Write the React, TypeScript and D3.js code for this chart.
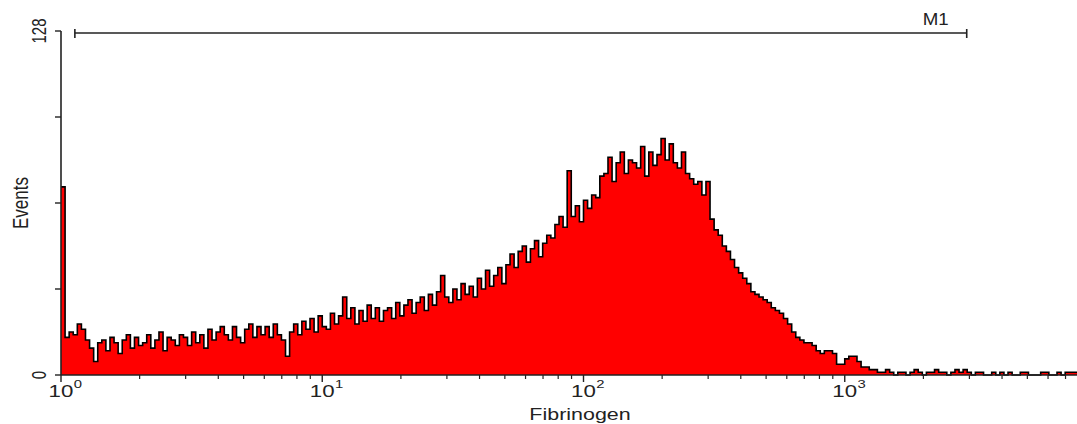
import React from "react";
import * as d3 from "d3";

// Fibrinogen histogram (log x, 4 decades, 256 channels), counts per channel
const DECADES = 4;
const CHANNELS = 256;
const counts = [
  70, 14, 16, 15, 19, 17, 13, 10, 5, 12,
  13, 9, 14, 12, 8, 13, 15, 10, 14, 11,
  12, 15, 10, 13, 16, 9, 14, 13, 11, 15,
  14, 11, 16, 12, 15, 10, 17, 13, 16, 18,
  15, 13, 18, 14, 12, 17, 19, 14, 18, 15,
  18, 14, 19, 15, 13, 7, 16, 19, 15, 20,
  17, 21, 16, 22, 18, 17, 23, 19, 22, 29,
  21, 25, 19, 24, 20, 26, 21, 25, 20, 24,
  25, 21, 27, 22, 26, 28, 23, 27, 29, 24,
  30, 26, 31, 37, 29, 27, 32, 28, 34, 30,
  33, 29, 36, 32, 39, 33, 37, 40, 34, 41,
  45, 40, 46, 48, 42, 47, 50, 44, 49, 52,
  51, 56, 59, 55, 76, 59, 63, 57, 65, 62,
  67, 66, 74, 75, 81, 72, 79, 83, 75, 80,
  79, 77, 85, 74, 83, 78, 82, 88, 80, 86,
  79, 77, 83, 75, 73, 71, 72, 67, 72, 58,
  54, 52, 48, 46, 43, 40, 38, 36, 34, 31,
  30, 29, 28, 27, 25, 24, 23, 21, 19, 16,
  14, 13, 12, 12, 11, 9, 8, 9, 9, 8,
  4, 4, 6, 7, 7, 5, 3, 3, 2, 2,
  1, 1, 2, 1, 0, 1, 1, 0, 1, 2,
  1, 0, 1, 1, 2, 1, 1, 0, 1, 2,
  1, 2, 1, 0, 1, 1, 0, 0, 1, 0,
  1, 0, 1, 0, 0, 1, 1, 0, 0, 0,
  1, 1, 0, 0, 1, 0, 1, 1, 1,
];

const yTicks = [0, 32, 64, 96, 128];
const yLabels = [0, 128];
const xMajor = [1, 10, 100, 1000];
const xSup = ["0", "1", "2", "3"];
const marker = { label: "M1", from: 1.13, to: 2930 };

const W = 1077;
const H = 424;
const font = "'Liberation Sans', Arial, sans-serif";

export default function App() {
  const x = d3.scaleLog().domain([1, 10 ** DECADES]).range([61, 1106]);
  const y = d3.scaleLinear().domain([0, 128]).range([375, 31]);

  const edge = (i: number) => 10 ** ((DECADES * i) / CHANNELS);
  const pts = counts.map((c, i) => ({ e: edge(i), c }));
  pts.push({ e: edge(counts.length), c: counts[counts.length - 1] });

  const area = d3
    .area<{ e: number; c: number }>()
    .x((d) => x(d.e))
    .y0(y(0))
    .y1((d) => y(d.c))
    .curve(d3.curveStepAfter);
  const line = d3
    .line<{ e: number; c: number }>()
    .x((d) => x(d.e))
    .y((d) => y(d.c))
    .curve(d3.curveStepAfter);

  const minor: number[] = [];
  for (let k = 0; k < DECADES; k++)
    for (let m = 2; m <= 9; m++) minor.push(m * 10 ** k);

  const x0 = x(1);
  const xEnd = W;

  return (
    <svg
      width={W}
      height={H}
      style={{ position: "fixed", left: 0, top: 0, background: "#fff" }}
    >
      <defs>
        <clipPath id="plot">
          <rect x={x0} y={0} width={xEnd - x0} height={376} />
        </clipPath>
      </defs>

      <g clipPath="url(#plot)">
        <path d={area(pts) ?? ""} fill="#ff0000" />
        <path
          d={line(pts) ?? ""}
          fill="none"
          stroke="#000"
          strokeWidth={1.6}
        />
      </g>

      {/* axes */}
      <line x1={x0} x2={x0} y1={y(128)} y2={y(0)} stroke="#222" strokeWidth={1.6} />
      <line x1={x0} x2={xEnd} y1={y(0)} y2={y(0)} stroke="#222" strokeWidth={1.6} />
      {yTicks.map((t) => (
        <line key={t} x1={x0 - 6} x2={x0} y1={y(t)} y2={y(t)} stroke="#222" strokeWidth={1.4} />
      ))}
      {yLabels.map((t) => (
        <text
          key={t}
          transform={`translate(46,${y(t)}) scale(1.35,1) rotate(-90)`}
          textAnchor="middle"
          fontFamily={font}
          fontSize={15}
          fill="#222"
        >
          {t}
        </text>
      ))}
      {xMajor.map((t) => (
        <line key={t} x1={x(t)} x2={x(t)} y1={y(0)} y2={y(0) + 7} stroke="#222" strokeWidth={1.4} />
      ))}
      {minor
        .filter((t) => x(t) <= xEnd)
        .map((t) => (
          <line key={t} x1={x(t)} x2={x(t)} y1={y(0)} y2={y(0) + 4} stroke="#222" strokeWidth={1.2} />
        ))}
      {xMajor.map((t, i) => (
        <g key={t} transform={`translate(${x(t)},0) scale(1.35,1)`} fontFamily={font} fill="#222">
          <text x={0} y={397} textAnchor="middle" fontSize={16.5}>
            10
          </text>
          <text x={9.5} y={388} fontSize={11}>
            {xSup[i]}
          </text>
        </g>
      ))}

      <text
        transform="translate(580,420) scale(1.3,1)"
        textAnchor="middle"
        fontFamily={font}
        fontSize={16.5}
        fill="#222"
      >
        Fibrinogen
      </text>
      <text
        transform={`translate(28,${y(64)}) scale(1.35,1) rotate(-90)`}
        textAnchor="middle"
        fontFamily={font}
        fontSize={17}
        fill="#222"
      >
        Events
      </text>

      {/* marker M1 */}
      <line x1={x(marker.from)} x2={x(marker.to)} y1={33} y2={33} stroke="#222" strokeWidth={1.6} />
      <line x1={x(marker.from)} x2={x(marker.from)} y1={29} y2={38} stroke="#222" strokeWidth={1.6} />
      <line x1={x(marker.to)} x2={x(marker.to)} y1={29} y2={38} stroke="#222" strokeWidth={1.6} />
      <text
        transform={`translate(${x(marker.to) - 31},25) scale(1.1,1)`}
        textAnchor="middle"
        fontFamily={font}
        fontSize={17}
        fontWeight={500}
        fill="#222"
      >
        {marker.label}
      </text>
    </svg>
  );
}
